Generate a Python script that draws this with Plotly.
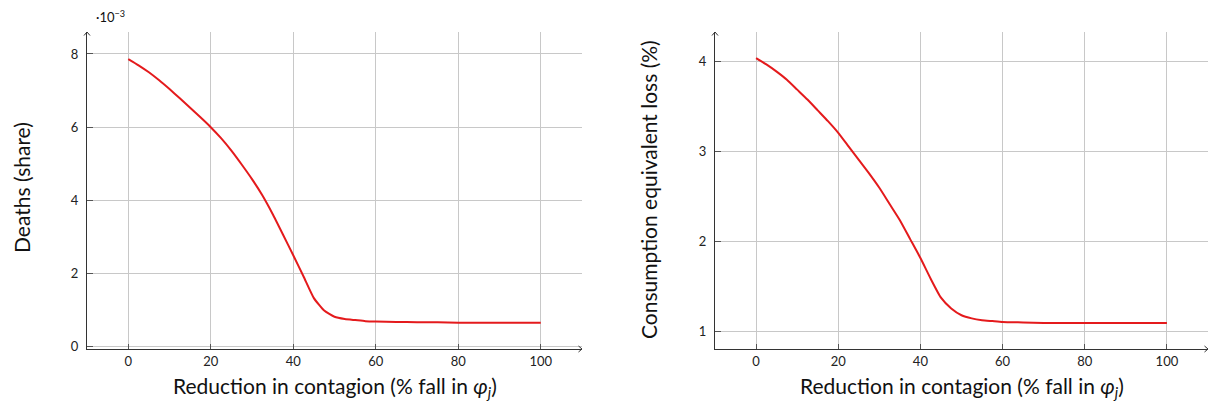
import plotly.graph_objects as go

# ---- data ----
reduction = [0, 2.5, 5, 7.5, 10, 12.5, 15, 17.5, 20, 22.5, 25, 27.5, 30, 32.5, 35, 37.5, 40, 42.5, 45, 47.5,
             50, 52.5, 55, 57.5, 60, 65, 70, 75, 80, 85, 90, 95, 100]
deaths_e3 = [7.86, 7.69, 7.50, 7.28, 7.04, 6.79, 6.53, 6.27, 6.00, 5.70, 5.36, 4.98, 4.58, 4.14, 3.63, 3.07, 2.50,
             1.92, 1.33, 0.99, 0.82, 0.76, 0.73, 0.70, 0.69, 0.68, 0.67, 0.67, 0.66, 0.66, 0.66, 0.66, 0.66]
ce_loss = [4.04, 3.97, 3.89, 3.80, 3.69, 3.58, 3.46, 3.34, 3.21, 3.06, 2.91, 2.76, 2.60, 2.42, 2.24, 2.03, 1.82,
           1.59, 1.38, 1.26, 1.185, 1.15, 1.13, 1.12, 1.11, 1.105, 1.10, 1.10, 1.10, 1.10, 1.10, 1.10, 1.10]
x_ticks = [0, 20, 40, 60, 80, 100]
y1_ticks = [0, 2, 4, 6, 8]
y2_ticks = [1, 2, 3, 4]

W, H = 1213, 405
FONT = "Lato"
RED = "#e41a1c"
AXC = "#333333"
GRID = "#c8c8c8"

fig = go.Figure()
fig.add_trace(go.Scatter(x=reduction, y=deaths_e3, mode="lines",
                         line=dict(color=RED, width=2, shape="spline", smoothing=0.5),
                         xaxis="x", yaxis="y", showlegend=False))
fig.add_trace(go.Scatter(x=reduction, y=ce_loss, mode="lines",
                         line=dict(color=RED, width=2, shape="spline", smoothing=0.5),
                         xaxis="x2", yaxis="y2", showlegend=False))

# plot areas in pixels
L1, R1 = 87, 582
L2, R2 = 715, 1208
T, B = 32, 349
def px(x): return x / W
def py(y): return 1 - y / H

common_x = dict(range=[-10, 110], tickvals=x_ticks, showgrid=True, gridcolor=GRID, gridwidth=1,
                showline=True, linecolor=AXC, linewidth=1.2, zeroline=False, ticks="inside", ticklen=5,
                tickcolor="#555555", tickfont=dict(family=FONT, size=13, color="#222"), ticklabelstandoff=0,
                automargin=False)
common_y = dict(showgrid=True, gridcolor=GRID, gridwidth=1, showline=True, linecolor=AXC, linewidth=1.2,
                zeroline=False, ticks="inside", ticklen=6, tickcolor="#555555",
                tickfont=dict(family=FONT, size=13, color="#222"), ticklabelstandoff=5, automargin=False)

fig.update_layout(
    width=W, height=H, margin=dict(l=0, r=0, t=0, b=0, pad=0, autoexpand=False),
    plot_bgcolor="white", paper_bgcolor="white",
    xaxis=dict(domain=[px(L1), px(R1)], anchor="y", **common_x),
    yaxis=dict(domain=[py(B), py(T)], anchor="x", range=[-0.06, 8.6], tickvals=y1_ticks, **common_y),
    xaxis2=dict(domain=[px(L2), px(R2)], anchor="y2", **common_x),
    yaxis2=dict(domain=[py(B), py(T)], anchor="x2", range=[0.81, 4.33], tickvals=y2_ticks, **common_y),
)

# arrow tips at axis ends
shapes = []
for L, R in [(L1, R1), (L2, R2)]:
    shapes.append(dict(type="line", xref="paper", yref="paper", x0=px(L), y0=py(T), x1=px(L - 3), y1=py(T + 3.5), line=dict(color=AXC, width=1)))
    shapes.append(dict(type="line", xref="paper", yref="paper", x0=px(L), y0=py(T), x1=px(L + 3), y1=py(T + 3.5), line=dict(color=AXC, width=1)))
    shapes.append(dict(type="line", xref="paper", yref="paper", x0=px(R), y0=py(B), x1=px(R - 3.5), y1=py(B - 3), line=dict(color=AXC, width=1)))
    shapes.append(dict(type="line", xref="paper", yref="paper", x0=px(R), y0=py(B), x1=px(R - 3.5), y1=py(B + 3), line=dict(color=AXC, width=1)))
fig.update_layout(shapes=shapes)

xtitle = "Reduction in contagion (% fall in <i>φ</i><sub><i>j</i></sub>)"
TF = dict(family=FONT, size=21, color="#111")
ann = [
    dict(text=xtitle, xref="paper", yref="paper", x=px((L1 + R1) / 2), y=py(387), showarrow=False,
         xanchor="center", yanchor="middle", font=TF),
    dict(text=xtitle, xref="paper", yref="paper", x=px((L2 + R2) / 2), y=py(387), showarrow=False,
         xanchor="center", yanchor="middle", font=TF),
    dict(text="Deaths (share)", xref="paper", yref="paper", x=px(22), y=py(188), textangle=-90, showarrow=False,
         xanchor="center", yanchor="middle", font=TF),
    dict(text="Consumption equivalent loss (%)", xref="paper", yref="paper", x=px(648), y=py(190), textangle=-90,
         showarrow=False, xanchor="center", yanchor="middle", font=TF),
    dict(text="·10<sup>−3</sup>", xref="paper", yref="paper", x=px(94), y=py(17), showarrow=False,
         xanchor="left", yanchor="middle", font=dict(family=FONT, size=13, color="#111")),
]
fig.update_layout(annotations=ann)

fig.write_html("out.html")
